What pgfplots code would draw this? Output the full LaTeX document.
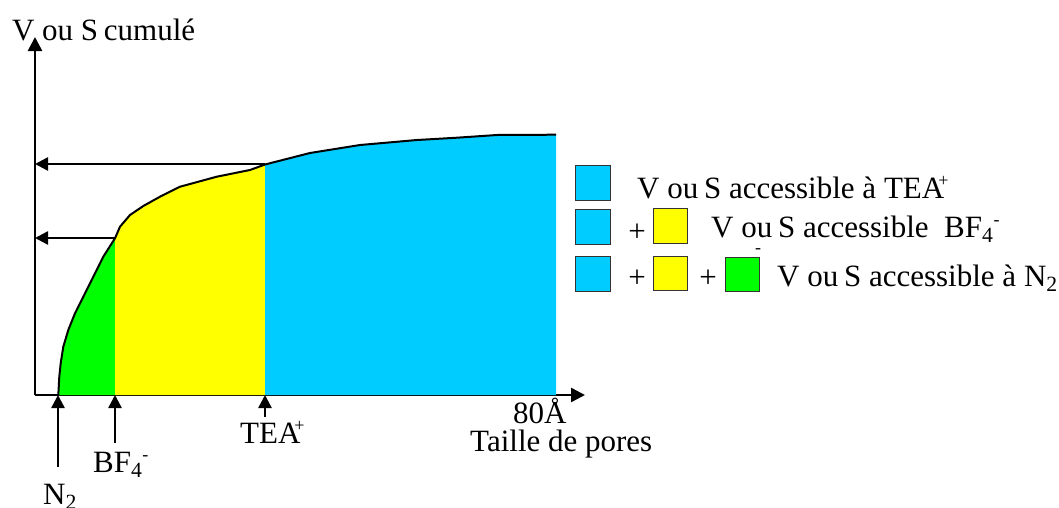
\documentclass[border=0pt]{standalone}
\usepackage{fontspec}
\setmainfont{Liberation Serif}
\usepackage{pgfplots}
\pgfplotsset{compat=1.18}
\usetikzlibrary{arrows.meta}
\definecolor{cCyan}{RGB}{0,204,255}
\definecolor{cYel}{RGB}{255,255,0}
\definecolor{cGrn}{RGB}{0,255,0}
\begin{document}
\begin{tikzpicture}[lbl/.style={font=\fontsize{31}{36}\selectfont, inner sep=0pt, anchor=base west},
  arr/.style={line width=2.5pt, -{Triangle[length=13pt,width=13pt]}}]
\useasboundingbox (0,0) rectangle (1059pt,507pt);
\begin{axis}[at={(35pt,112pt)}, anchor=south west, x=1pt, y=1pt,
  xmin=35, xmax=585, ymin=112, ymax=470,
  axis lines=left,
  axis line style={line width=2.5pt, -{Triangle[length=14pt,width=14pt]}},
  xtick=\empty, ytick=\empty, clip=false]
% green region
\addplot[fill=cGrn, draw=none] coordinates {(58.3,112) (59.3,130.3) (60.7,143.7) (63.3,160.3) (68.3,177) (75,193.7) (83.3,210.3) (93.3,230.3) (103.3,250.3) (115,268.7) (115,112)} -- cycle;
% yellow region
\addplot[fill=cYel, draw=none] coordinates {(115,112) (115,268.7) (120,280.3) (130,292) (143.3,301) (160,310.3) (180,320.3) (190,323) (216.7,330.3) (250,337) (265,342.5) (265,112)} -- cycle;
% cyan region
\addplot[fill=cCyan, draw=none] coordinates {(265,112) (265,342.5) (310,354) (360,362) (417,367) (457,369.3) (497,372) (556,372.3) (556,112)} -- cycle;
% outline
\addplot[black, line width=2pt] coordinates {(58.3,112) (59.3,130.3) (60.7,143.7) (63.3,160.3) (68.3,177) (75,193.7) (83.3,210.3) (93.3,230.3) (103.3,250.3) (115,268.7) (120,280.3) (130,292) (143.3,301) (160,310.3) (180,320.3) (190,323) (216.7,330.3) (250,337) (265,342.5) (310,354) (360,362) (417,367) (457,369.3) (497,372) (556,372.3)};
% horizontal arrows
\draw[arr] (axis cs:265,343) -- (axis cs:35,343);
\draw[arr] (axis cs:115,269) -- (axis cs:35,269);
% bottom arrows
\draw[arr] (axis cs:58,40) -- (axis cs:58,112);
\draw[arr] (axis cs:115,64) -- (axis cs:115,112);
\draw[arr] (axis cs:265,90) -- (axis cs:265,112);
% axis labels
\node[lbl] at (axis cs:12,467) {V};
\node[lbl] at (axis cs:42,467) {ou S\kern-2pt\ cumulé};
\node[lbl] at (axis cs:513,84) {80Å};
\node[lbl] at (axis cs:470,56) {Taille de pores};
\node[lbl] at (axis cs:240,64) {TEA\kern-6pt\raisebox{12pt}{\fontsize{18}{20}\selectfont +}};
\node[lbl] at (axis cs:93,35) {BF\textsubscript{4}\raisebox{12pt}{\fontsize{18}{20}\selectfont -}};
\node[lbl] at (axis cs:43,3) {N\textsubscript{2}};
% legend
\draw[black!80, line width=0.8pt, fill=cCyan] (axis cs:575,342) rectangle (axis cs:610,307);
\node[lbl] at (axis cs:637,309) {V ou\kern-2pt\ S accessible à TEA\kern-6pt\raisebox{12pt}{\fontsize{18}{20}\selectfont +}};
\draw[black!80, line width=0.8pt, fill=cCyan] (axis cs:575,298) rectangle (axis cs:610,263);
\node[font=\fontsize{31}{36}\selectfont, inner sep=0pt] at (axis cs:637,274) {+};
\draw[black!80, line width=0.8pt, fill=cYel] (axis cs:653,299) rectangle (axis cs:687,264);
\node[lbl] at (axis cs:711,270) {V ou\kern-2pt\ S accessible\ \ BF\textsubscript{4}\raisebox{12pt}{\fontsize{18}{20}\selectfont -}};
\draw[black!80, line width=0.8pt, fill=cCyan] (axis cs:575,251) rectangle (axis cs:610,216);
\node[font=\fontsize{31}{36}\selectfont, inner sep=0pt] at (axis cs:637,228) {+};
\draw[black!80, line width=0.8pt, fill=cYel] (axis cs:653,251) rectangle (axis cs:687,217);
\node[font=\fontsize{31}{36}\selectfont, inner sep=0pt] at (axis cs:708,228) {+};
\draw[black!80, line width=0.8pt, fill=cGrn] (axis cs:725,250) rectangle (axis cs:759,216);
\node[font=\fontsize{18}{20}\selectfont, inner sep=0pt] at (axis cs:758,256) {-};
\node[lbl] at (axis cs:777,221) {V ou\kern-2pt\ S accessible à N\textsubscript{2}};
\end{axis}
\end{tikzpicture}
\end{document}
